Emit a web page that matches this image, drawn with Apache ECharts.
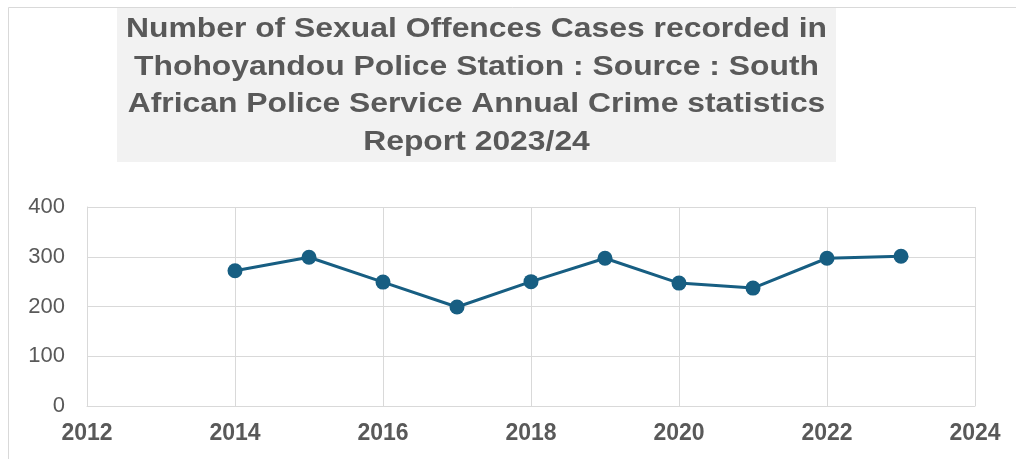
<!DOCTYPE html>
<html><head><meta charset="utf-8">
<script src="https://cdn.jsdelivr.net/npm/echarts@6/dist/echarts.min.js"></script>
<style>html,body{margin:0;padding:0;background:#fff}#c{width:1016px;height:459px}</style>
</head><body><div id="c"></div>
<script>
const titleLines = [
  'Number of Sexual Offences Cases recorded in',
  'Thohoyandou Police Station : Source : South',
  'African Police Service Annual Crime statistics',
  'Report 2023/24'
];
const years = [2014, 2015, 2016, 2017, 2018, 2019, 2020, 2021, 2022, 2023];
const cases = [272, 299, 249, 199, 250, 297, 247, 237, 297, 301];
const xMin = 2012, xMax = 2024, xStep = 2;
const yMin = 0, yMax = 400, yStep = 100;

const chart = echarts.init(document.getElementById('c'));
chart.setOption({
  animation: false,
  graphic: [
    { type: 'rect', z: -10, shape: { x: 8.5, y: 7.5, width: 1100, height: 500 },
      style: { fill: '#fff', stroke: '#d9d9d9', lineWidth: 1 } },
    { type: 'rect', z: -5, shape: { x: 117, y: 8, width: 719, height: 154 },
      style: { fill: '#f2f2f2' } },
    { type: 'text', z: 10, x: 476.5, y: 11, scaleX: 1.18,
      style: { text: titleLines.join('\n'), align: 'center', verticalAlign: 'top',
        font: 'bold 27px "Liberation Sans", Arial, sans-serif', lineHeight: 37.5, fill: '#595959' } }
  ],
  grid: { left: 87, right: 41, top: 207, bottom: 53 },
  xAxis: {
    type: 'value', min: xMin, max: xMax, interval: xStep,
    axisLine: { show: true, lineStyle: { color: '#d9d9d9', width: 1 } },
    axisTick: { show: false },
    splitLine: { show: true, lineStyle: { color: '#d9d9d9', width: 1 } },
    axisLabel: { color: '#595959', fontSize: 23, fontWeight: 'bold', margin: 16,
      fontFamily: '"Liberation Sans", Arial, sans-serif', formatter: v => String(v) }
  },
  yAxis: {
    type: 'value', min: yMin, max: yMax, interval: yStep,
    axisLine: { show: true, lineStyle: { color: '#d9d9d9', width: 1 } },
    axisTick: { show: false },
    splitLine: { show: true, lineStyle: { color: '#d9d9d9', width: 1 } },
    axisLabel: { color: '#595959', fontSize: 22, margin: 22,
      fontFamily: '"Liberation Sans", Arial, sans-serif' }
  },
  series: [{
    type: 'line',
    data: years.map((y, i) => [y, cases[i]]),
    symbol: 'circle', symbolSize: 15,
    lineStyle: { color: '#175e82', width: 3 },
    itemStyle: { color: '#175e82' }
  }]
});
</script></body></html>
